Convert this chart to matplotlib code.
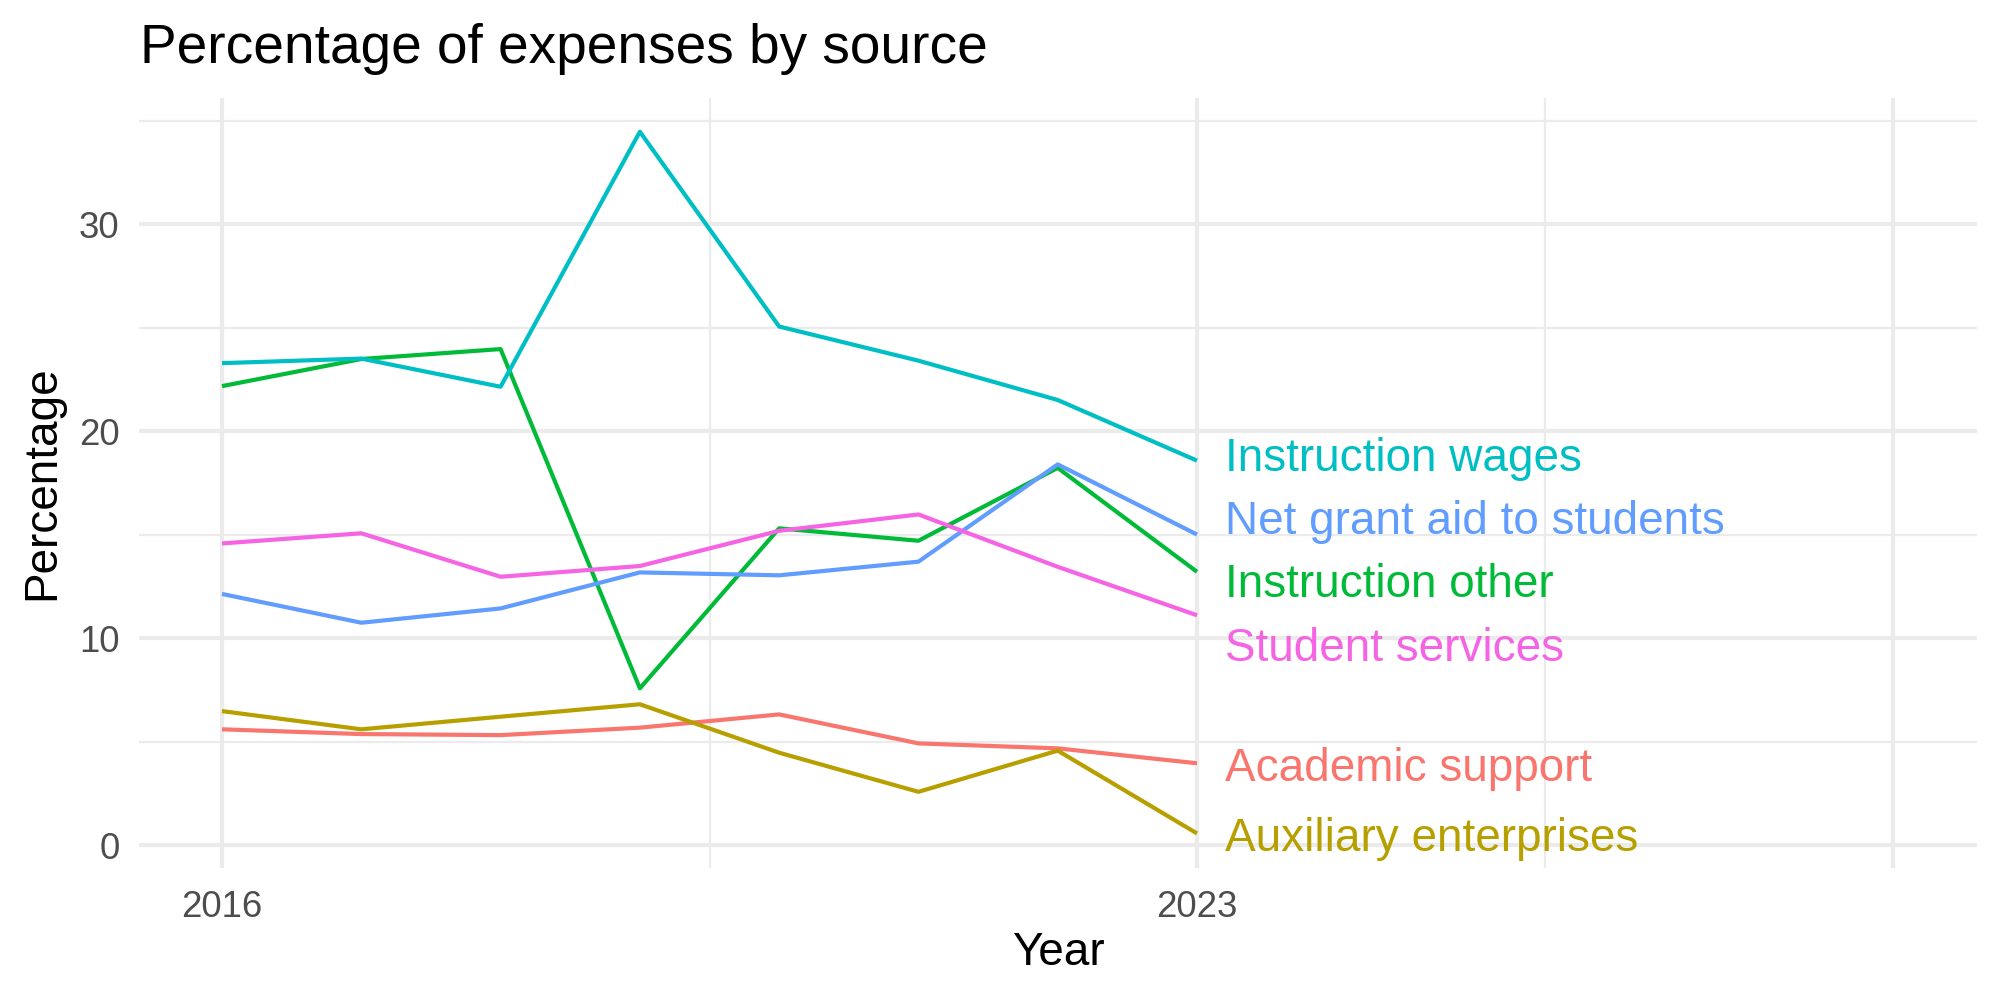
import matplotlib
matplotlib.use("Agg")
import matplotlib.pyplot as plt
from matplotlib.ticker import FixedLocator

plt.rcParams['font.family'] = ['Liberation Sans', 'DejaVu Sans']

years = [2016, 2017, 2018, 2019, 2020, 2021, 2022, 2023]
series_names = ["Academic support", "Auxiliary enterprises", "Instruction other",
                "Instruction wages", "Net grant aid to students", "Student services"]
academic_support = [5.59, 5.36, 5.31, 5.67, 6.31, 4.91, 4.67, 3.95]
auxiliary_enterprises = [6.47, 5.59, 6.20, 6.80, 4.46, 2.57, 4.56, 0.56]
instruction_other = [22.17, 23.48, 23.96, 7.57, 15.30, 14.70, 18.22, 13.20]
instruction_wages = [23.28, 23.50, 22.14, 34.46, 25.05, 23.40, 21.50, 18.57]
net_grant_aid = [12.13, 10.74, 11.43, 13.17, 13.03, 13.69, 18.39, 15.00]
student_services = [14.57, 15.06, 12.96, 13.48, 15.18, 15.97, 13.44, 11.10]
values = [academic_support, auxiliary_enterprises, instruction_other,
          instruction_wages, net_grant_aid, student_services]
label_y = [3.68, 0.30, 12.54, 18.66, 15.60, 9.48]
x_tick_values = [2016, 2023, 2028]
x_tick_labels = ["2016", "2023", ""]
y_tick_values = [0, 10, 20, 30]

colors = ["#F8766D", "#B79F00", "#00BA38", "#00BFC4", "#619CFF", "#F564E3"]

fig = plt.figure(figsize=(10, 5), dpi=200)
ax = fig.add_axes([0.0695, 0.132, 0.919, 0.770])

for name, vals, c in zip(series_names, values, colors):
    ax.plot(years, vals, color=c, lw=1.5, solid_capstyle='butt', zorder=3)

for name, ly, c in zip(series_names, label_y, colors):
    ax.text(2023.2, ly, name, color=c, fontsize=16.5, ha='left', va='center', zorder=4)

ax.set_xlim(2015.404, 2028.6)
ax.set_ylim(-1.11, 36.09)

ax.xaxis.set_major_locator(FixedLocator(x_tick_values))
ax.set_xticklabels(x_tick_labels)
ax.xaxis.set_minor_locator(FixedLocator([2019.5, 2025.5]))
ax.yaxis.set_major_locator(FixedLocator(y_tick_values))
ax.yaxis.set_minor_locator(FixedLocator([5, 15, 25, 35]))

ax.grid(which='major', color='#EBEBEB', lw=1.5, zorder=0)
ax.grid(which='minor', color='#EBEBEB', lw=0.8, zorder=0)
ax.set_axisbelow(True)
for s in ax.spines.values():
    s.set_visible(False)
ax.tick_params(which='both', length=0)
ax.tick_params(axis='x', labelsize=13.2, labelcolor='#4D4D4D', pad=8)
ax.tick_params(axis='y', labelsize=13.2, labelcolor='#4D4D4D', pad=7)

fig.text(0.5290, 0.047, "Year", fontsize=16.5, ha='center', va='center')
fig.text(0.021, 0.517, "Percentage", fontsize=16.5, ha='center', va='center', rotation=90)
fig.text(0.0700, 0.937, "Percentage of expenses by source", fontsize=19.8, ha='left', va='baseline')

fig.savefig("out.png", dpi=200, facecolor='white')
